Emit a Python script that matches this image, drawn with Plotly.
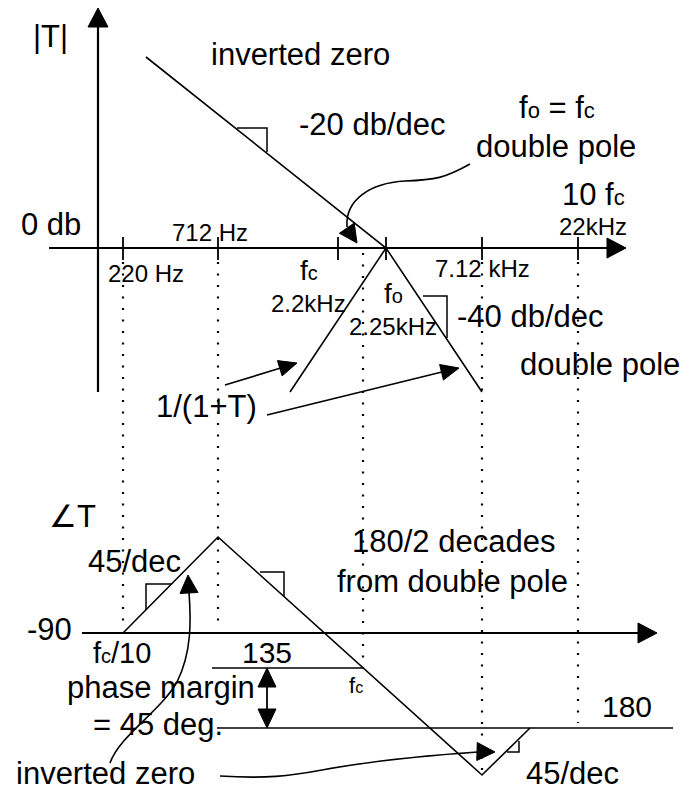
import math
import plotly.graph_objects as go

W, H = 689, 793
INK = "black"
FONT = "Liberation Sans, Arial, Helvetica, sans-serif"
BIG, SMALL = 31, 24

# ---- sketch geometry (drawing units = page pixels, y grows downward) ----
# magnitude panel
mag_axis_y = 248
mag_vaxis_x = 98
freq_tick_x = [123, 218, 338, 386, 482, 578]

# loop gain |T|: inverted-zero slope down to the crossover, then double-pole slope
loop_gain_x = [146, 386, 482]
loop_gain_y = [57, 248, 392]
# closed-loop 1/(1+T) rising branch
closed_loop_x = [290, 386]
closed_loop_y = [392, 248]

# phase panel
phase_axis_y = 633
phase_x = [123, 218, 482, 530]
phase_y = [633, 537, 775, 728]
level_135_y = 668
level_180_y = 728

# dotted frequency guides
guide_x = [123, 218, 363, 482, 578]
guide_top = [262, 262, 253, 262, 262]
guide_bottom = [630, 630, 668, 775, 723]

# right-angle slope markers
slope_marks = [
    ([237, 267, 267], [128, 128, 152]),
    ([423, 447, 447], [296, 296, 338]),
    ([146, 146, 172], [610, 584, 584]),
    ([260, 284, 284], [572, 572, 596]),
    ([507, 519, 519], [752, 752, 741]),
]

fig = go.Figure()


def polyline(xs, ys, width=1.6, dash=None):
    line = dict(color=INK, width=width)
    if dash:
        line["dash"] = dash
    fig.add_trace(go.Scatter(x=xs, y=ys, mode="lines", line=line,
                             hoverinfo="skip", showlegend=False))


shapes = []


def head(tip, frm, length=18, half=8):
    dx, dy = tip[0] - frm[0], tip[1] - frm[1]
    n = math.hypot(dx, dy)
    ux, uy = dx / n, dy / n
    bx, by = tip[0] - ux * length, tip[1] - uy * length
    px, py = -uy * half, ux * half
    path = (f"M {tip[0]},{tip[1]} L {bx + px},{by + py} "
            f"L {bx - px},{by - py} Z")
    shapes.append(dict(type="path", path=path, xref="x", yref="y",
                       fillcolor=INK, line=dict(color=INK, width=1)))


def curve(path):
    shapes.append(dict(type="path", path=path, xref="x", yref="y",
                       line=dict(color=INK, width=1.6)))


# dotted guides
for gx, g0, g1 in zip(guide_x, guide_top, guide_bottom):
    polyline([gx, gx], [g0, g1], width=2.2, dash="2px,9.5px")

# magnitude axes
polyline([mag_vaxis_x, mag_vaxis_x], [392, 22], width=2.2)
head((mag_vaxis_x, 8), (mag_vaxis_x, 30), length=19, half=10)
polyline([49, 612], [mag_axis_y, mag_axis_y], width=2.2)
head((626, mag_axis_y), (600, mag_axis_y), length=19, half=10)
for tx in freq_tick_x:
    polyline([tx, tx], [237, 260], width=1.8)

# magnitude curves
polyline(loop_gain_x, loop_gain_y)
polyline(closed_loop_x, closed_loop_y)

# phase axis and levels
polyline([82, 642], [phase_axis_y, phase_axis_y], width=2.0)
head((657, phase_axis_y), (630, phase_axis_y), length=19, half=10)
polyline([212, 363], [level_135_y, level_135_y], width=1.6)
polyline([217, 673], [level_180_y, level_180_y], width=1.6)
polyline(phase_x, phase_y)

# slope markers
for mx, my in slope_marks:
    polyline(mx, my, width=1.5)

# phase-margin double arrow
polyline([267, 267], [684, 712], width=1.8)
head((267, level_135_y), (267, 690), length=19, half=9)
head((267, level_180_y), (267, 705), length=19, half=9)

# pointer arrows for 1/(1+T)
polyline([225, 284], [385, 367], width=1.6)
head((297, 363), (225, 385))
polyline([267, 446], [415, 371], width=1.6)
head((459, 368), (267, 415))

# curved call-outs
curve("M 470 164 C 445 178, 435 180, 405 181 C 370 183, 345 200, 347 227")
head((357, 243), (346, 227), length=18, half=9)
curve("M 110 763 C 120 735, 160 712, 177 682 C 192 652, 191 620, 189 592")
head((188, 575), (189, 593), length=18, half=9)
curve("M 220 776 C 265 779, 290 776, 322 770 C 365 762, 420 756, 478 752")
head((495, 752), (477, 751.5), length=18, half=9)


def sub(base, s, size):
    return f'{base}<span style="font-size:{size}px">{s}</span>'


labels = [
    ("|T|", 50, 47, BIG),
    ("inverted zero", 300, 65, BIG),
    ("-20 db/dec", 372, 135, BIG),
    (sub("f", "o", 22) + " = " + sub("f", "c", 22), 557, 118, BIG),
    ("double pole", 556, 157, BIG),
    ("10 " + sub("f", "c", 22), 593, 205, BIG),
    ("22kHz", 593, 235, SMALL),
    ("0 db", 51, 235, BIG),
    ("712 Hz", 210, 241, SMALL),
    ("220 Hz", 146, 282, SMALL),
    (sub("f", "c", 20), 309, 280, 28),
    ("2.2kHz", 308, 312, SMALL),
    (sub("f", "o", 20), 393, 303, 28),
    ("2.25kHz", 393, 335, SMALL),
    ("7.12 kHz", 482, 277, SMALL),
    ("-40 db/dec", 530, 327, BIG),
    ("double pole", 600, 375, BIG),
    ("1/(1+T)", 206, 417, BIG),
    ("∠T", 72, 527, BIG),
    ("45/dec", 134, 572, BIG),
    ("180/2 decades", 453, 552, BIG),
    ("from double pole", 452, 592, BIG),
    ("-90", 49, 640, BIG),
    (sub("f", "c", 20) + "/10", 122, 663, 29),
    ("135", 267, 663, 30),
    ("phase margin", 161, 698, BIG),
    ("= 45 deg.", 158, 735, BIG),
    (sub("f", "c", 16), 356, 693, 22),
    ("180", 627, 717, 30),
    ("inverted zero", 105, 784, BIG),
    ("45/dec", 572, 784, BIG),
]

annotations = []
for text, cx, baseline, size in labels:
    annotations.append(dict(
        text=text, x=cx, y=baseline - 0.35 * size, xref="x", yref="y",
        xanchor="center", yanchor="middle", showarrow=False,
        font=dict(family=FONT, size=size, color=INK)))

fig.update_layout(
    width=W, height=H,
    margin=dict(l=0, r=0, t=0, b=0),
    paper_bgcolor="white", plot_bgcolor="white",
    xaxis=dict(range=[0, W], visible=False, fixedrange=True),
    yaxis=dict(range=[H, 0], visible=False, fixedrange=True),
    shapes=shapes, annotations=annotations,
    showlegend=False,
)

fig.write_html("out.html")
